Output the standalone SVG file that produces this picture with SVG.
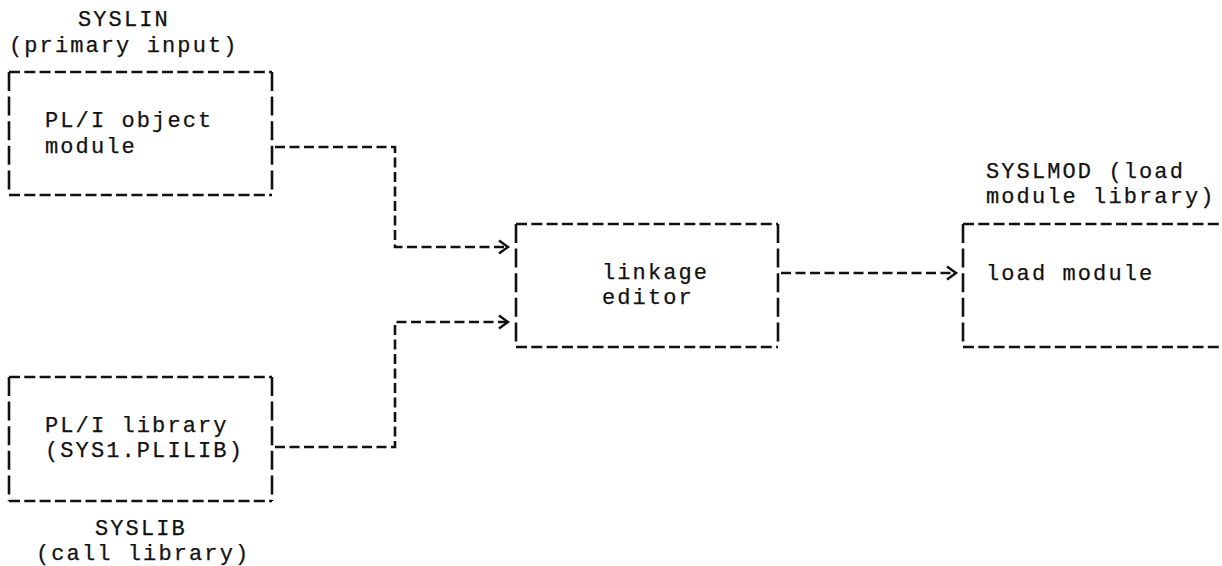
<svg xmlns="http://www.w3.org/2000/svg" width="1222" height="566" viewBox="0 0 1222 566">
<defs>
<style>
text{font-family:"Liberation Mono","DejaVu Sans Mono",monospace;font-size:22px;letter-spacing:2.1px;fill:#111;stroke:#111;stroke-width:0.25}
.h{stroke:#111;stroke-width:2.6;stroke-dasharray:11 4.3;fill:none}
.v{stroke:#111;stroke-width:2.6;stroke-dasharray:19 5.6;fill:none}
.c{stroke:#111;stroke-width:2.6;stroke-dasharray:10 4.5;fill:none}
</style>
<marker id="arr" markerWidth="14" markerHeight="16" refX="11" refY="8" orient="auto" markerUnits="userSpaceOnUse">
<path d="M2,1.5 L11,8 L2,14.5" fill="none" stroke="#111" stroke-width="2.5"/>
</marker>
</defs>
<rect width="1222" height="566" fill="#fff"/>
<g id="syslin">
<text x="78" y="26">SYSLIN</text>
<text x="9" y="52">(primary input)</text>
<line class="h" x1="9" y1="72" x2="272" y2="72"/>
<line class="h" x1="9" y1="195" x2="272" y2="195"/>
<line class="v" x1="9" y1="72" x2="9" y2="195"/>
<line class="v" x1="272" y1="72" x2="272" y2="195"/>
<text x="45" y="127">PL/I object</text>
<text x="45" y="153">module</text>
</g>
<g id="syslib">
<line class="h" x1="9" y1="377" x2="272" y2="377"/>
<line class="h" x1="9" y1="501" x2="272" y2="501"/>
<line class="v" x1="9" y1="377" x2="9" y2="501"/>
<line class="v" x1="272" y1="377" x2="272" y2="501"/>
<text x="45" y="432">PL/I library</text>
<text x="45" y="457">(SYS1.PLILIB)</text>
<text x="95" y="535">SYSLIB</text>
<text x="36" y="560">(call library)</text>
</g>
<g id="linkage">
<line class="h" x1="516" y1="224" x2="778" y2="224"/>
<line class="h" x1="516" y1="347" x2="778" y2="347"/>
<line class="v" x1="516" y1="224" x2="516" y2="347"/>
<line class="v" x1="778" y1="224" x2="778" y2="347"/>
<text x="602" y="279">linkage</text>
<text x="602" y="304">editor</text>
</g>
<g id="syslmod">
<text x="986" y="178">SYSLMOD (load</text>
<text x="986" y="203">module library)</text>
<line class="h" x1="963" y1="224" x2="1230" y2="224"/>
<line class="h" x1="963" y1="347" x2="1230" y2="347"/>
<line class="v" x1="963" y1="224" x2="963" y2="347"/>
<text x="986" y="280">load module</text>
</g>
<g id="connectors">
<path class="c" d="M275,147 H395 V247 H508" marker-end="url(#arr)"/>
<path class="c" d="M275,447 H395 V322 H508" marker-end="url(#arr)"/>
<path class="c" d="M781,273 H956" marker-end="url(#arr)"/>
</g>
</svg>
